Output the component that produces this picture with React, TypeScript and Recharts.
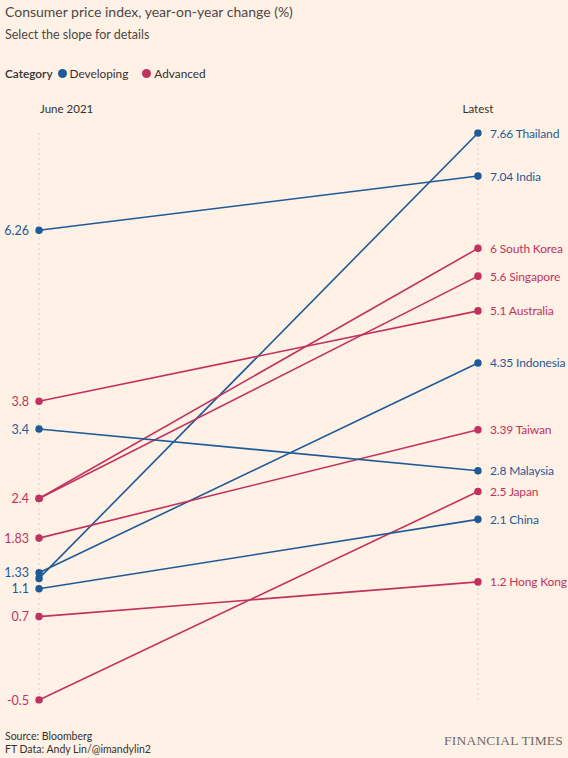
import React from 'react';
import { LineChart, Line, XAxis, YAxis, CartesianGrid, LabelList } from 'recharts';

const periods = ['June 2021', 'Latest'];
const countries = ['Thailand', 'India', 'South Korea', 'Singapore', 'Australia', 'Indonesia', 'Taiwan', 'Malaysia', 'Japan', 'China', 'Hong Kong'];
const categories = ['Developing', 'Developing', 'Advanced', 'Advanced', 'Advanced', 'Developing', 'Advanced', 'Developing', 'Advanced', 'Developing', 'Advanced'];
const june2021 = [1.25, 6.26, 2.4, 2.4, 3.8, 1.33, 1.83, 3.4, -0.5, 1.1, 0.7];
const latest = [7.66, 7.04, 6, 5.6, 5.1, 4.35, 3.39, 2.8, 2.5, 2.1, 1.2];
const hiddenStartLabels = ['Thailand', 'South Korea'];

const COLORS: Record<string, string> = { Developing: '#1f5a98', Advanced: '#c2325e' };
const BG = '#fff1e5';
const FONT = 'Lato, "Noto Sans", sans-serif';

const data = periods.map((p, pi) => {
  const row: Record<string, any> = { period: p };
  countries.forEach((c, i) => {
    row[c] = pi === 0 ? june2021[i] : latest[i];
  });
  return row;
});

const makeLabel = (country: string, color: string) => (props: any) => {
  const { x, y, value, index } = props;
  if (index === 0) {
    if (hiddenStartLabels.includes(country)) return null;
    return (
      <text x={x - 10} y={y} dy={4.5} textAnchor="end" fill={color} fontSize={12.5} fontFamily={FONT}>
        {String(value)}
      </text>
    );
  }
  return (
    <text x={x + 12} y={y} dy={4.5} textAnchor="start" fill={color} fontSize={12} letterSpacing={-0.15} fontFamily={FONT}>
      {`${value} ${country}`}
    </text>
  );
};

const HeaderTick = (props: any) => {
  const { x, y, payload, index } = props;
  return (
    <text x={index === 0 ? x + 1 : x} y={y} textAnchor={index === 0 ? 'start' : 'middle'} fill="#33302e" fontSize={11.5} fontFamily={FONT}>
      {payload.value}
    </text>
  );
};

export default function App() {
  return (
    <div style={{ position: 'absolute', left: 0, top: 0, width: 568, height: 758, background: BG, fontFamily: FONT, overflow: 'hidden' }}>
      <div style={{ position: 'absolute', left: 5, top: 3, fontSize: 14, color: '#4d4845' }}>
        Consumer price index, year-on-year change (%)
      </div>
      <div style={{ position: 'absolute', left: 5, top: 26.5, fontSize: 12.5, color: '#4d4845' }}>
        Select the slope for details
      </div>
      <div style={{ position: 'absolute', left: 5, top: 65.5, fontSize: 11.8, color: '#33302e', display: 'flex', alignItems: 'center' }}>
        <span style={{ fontWeight: 600, marginRight: 5 }}>Category</span>
        <span style={{ width: 9, height: 9, borderRadius: '50%', background: COLORS.Developing, display: 'inline-block', marginRight: 3 }} />
        <span style={{ marginRight: 14 }}>Developing</span>
        <span style={{ width: 9, height: 9, borderRadius: '50%', background: COLORS.Advanced, display: 'inline-block', marginRight: 3 }} />
        <span>Advanced</span>
      </div>
      <div style={{ position: 'absolute', left: 0, top: 0 }}>
        <LineChart width={568} height={758} data={data} margin={{ top: 103, right: 90, bottom: 58, left: 39 }}>
          <CartesianGrid vertical={true} horizontal={false} stroke="#ddd0c6" strokeDasharray="2 3" />
          <XAxis dataKey="period" orientation="top" height={30} axisLine={false} tickLine={false} tickMargin={14} tick={<HeaderTick />} interval={0} />
          <YAxis hide domain={[-0.5, 7.66]} type="number" allowDataOverflow />
          {countries.map((c, i) => {
            const color = COLORS[categories[i]];
            return (
              <Line
                key={c}
                dataKey={c}
                type="linear"
                stroke={color}
                strokeWidth={1.6}
                dot={{ r: 3.8, fill: color, stroke: color, strokeWidth: 0, clipDot: false } as any}
                activeDot={false}
                isAnimationActive={false}
              >
                <LabelList dataKey={c} content={makeLabel(c, color)} />
              </Line>
            );
          })}
        </LineChart>
      </div>
      <div style={{ position: 'absolute', left: 5, top: 729.5, fontSize: 10.5, color: '#33302e', lineHeight: '13px' }}>
        <div>Source: Bloomberg</div>
        <div>FT Data: Andy Lin/@imandylin2</div>
      </div>
      <div style={{ position: 'absolute', right: 5, top: 732.5, fontSize: 13.5, color: '#706a66', fontFamily: '"Liberation Serif", serif', letterSpacing: 0.2 }}>
        FINANCIAL TIMES
      </div>
    </div>
  );
}
